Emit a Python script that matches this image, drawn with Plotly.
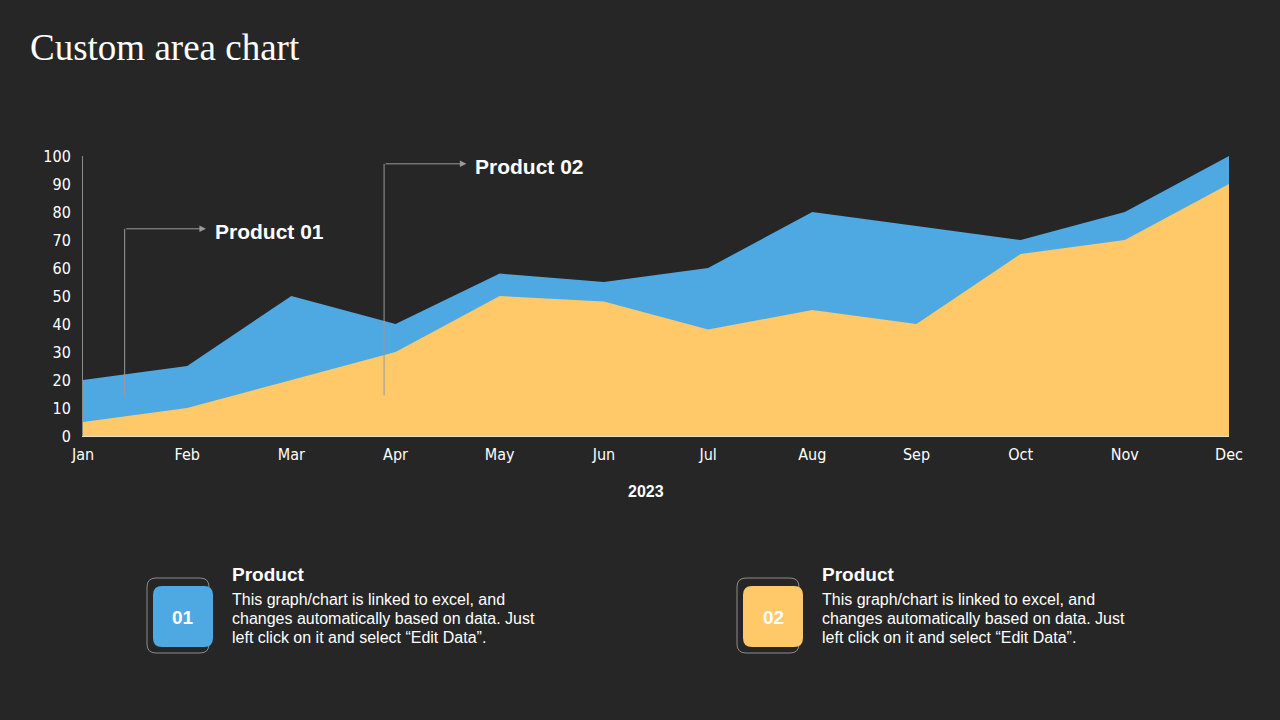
import plotly.graph_objects as go

# chart data
months = ['Jan', 'Feb', 'Mar', 'Apr', 'May', 'Jun', 'Jul', 'Aug', 'Sep', 'Oct', 'Nov', 'Dec']
product_01 = [20, 25, 50, 40, 58, 55, 60, 80, 75, 70, 80, 100]
product_02 = [5, 10, 20, 30, 50, 48, 38, 45, 40, 65, 70, 90]
y_ticks = [0, 10, 20, 30, 40, 50, 60, 70, 80, 90, 100]
x_title = '2023'

BG = '#262626'
BLUE = '#4EA9E2'
YELLOW = '#FFC869'
GREY = '#9a9a9a'
NARROW = 'Liberation Sans Narrow, DejaVu Sans Condensed, Arial Narrow, sans-serif'
SANS = 'Liberation Sans, Arial, sans-serif'

desc_lines = ['This graph/chart is linked to excel, and',
              'changes automatically based on data. Just',
              'left click on it and select \u201cEdit Data\u201d.']

fig = go.Figure()

# back area (Product 01) and front area (Product 02)
fig.add_trace(go.Scatter(x=months, y=product_01, mode='lines', fill='tozeroy',
                         line=dict(width=0, color=BLUE), fillcolor=BLUE,
                         name='Product 01', hoverinfo='x+y'))
fig.add_trace(go.Scatter(x=months, y=product_02, mode='lines', fill='tozeroy',
                         line=dict(width=0, color=YELLOW), fillcolor=YELLOW,
                         name='Product 02', hoverinfo='x+y'))

fig.update_layout(
    width=1280, height=720,
    paper_bgcolor=BG, plot_bgcolor=BG,
    margin=dict(l=83, r=51, t=156, b=284),
    showlegend=False,
    font=dict(family=NARROW, color='#ffffff', size=15),
)

fig.update_xaxes(
    type='category', range=[0, 11], showgrid=False, zeroline=False,
    showline=True, linecolor='#e8e0c8', linewidth=1,
    ticks='', ticklabelstandoff=4,
    tickfont=dict(family=NARROW, size=16, color='#ffffff'),
    fixedrange=True,
)
fig.update_yaxes(
    range=[0, 100], tickvals=y_ticks, showgrid=False, zeroline=False,
    showline=True, linecolor='#8a8a8a', linewidth=1,
    ticks='', ticklabelstandoff=8,
    tickfont=dict(family=NARROW, size=16, color='#ffffff'),
    fixedrange=True,
)

# pixel helpers relative to the plot area
W, H = 1280 - 83 - 51, 720 - 156 - 284


def px(x):
    return (x - 83) / W


def py(y):
    return (436 - y) / H


def rounded(x0, y0, x1, y1, r):
    # rounded rectangle path in paper coords, from pixel corners
    return ('M {a},{t} L {b},{t} Q {R},{t} {R},{c} L {R},{d} Q {R},{B} {b},{B} '
            'L {a},{B} Q {L},{B} {L},{d} L {L},{c} Q {L},{t} {a},{t} Z').format(
        a=px(x0 + r), b=px(x1 - r), L=px(x0), R=px(x1),
        t=py(y0), B=py(y1), c=py(y0 + r), d=py(y1 - r))


# slide title
fig.add_annotation(text='Custom area chart', xref='paper', yref='paper',
                   x=px(28), y=py(47), xanchor='left', yanchor='middle', showarrow=False,
                   font=dict(family='Liberation Serif, Times New Roman, serif', size=37, color='#ffffff'))

# x axis title (sits slightly left of the plot centre on the slide)
fig.add_annotation(text='<b>%s</b>' % x_title, xref='paper', yref='paper',
                   x=px(646), y=py(491), xanchor='center', yanchor='middle', showarrow=False,
                   font=dict(family=SANS, size=16, color='#ffffff'))

# callout arrows: vertical stem + arrowed horizontal segment
callouts = [
    # (stem x, stem bottom y, top y, head x, label x, label y, label)
    (0.40, 14, 74, 1.18, 1.25, 73.2, 'Product 01'),
    (2.89, 14.5, 97.2, 3.68, 3.74, 96.2, 'Product 02'),
]
for sx, y0, y1, hx, lx, ly, label in callouts:
    fig.add_shape(type='line', xref='x', yref='y', x0=sx, x1=sx, y0=y0, y1=y1,
                  line=dict(color=GREY, width=1))
    fig.add_annotation(x=hx, y=y1, ax=sx, ay=y1, xref='x', yref='y', axref='x', ayref='y',
                       text='', showarrow=True, arrowhead=2, arrowsize=1.3, arrowwidth=1,
                       arrowcolor=GREY)
    fig.add_annotation(x=lx, y=ly, xref='x', yref='y', text='<b>%s</b>' % label,
                       xanchor='left', yanchor='middle', showarrow=False,
                       font=dict(family=SANS, size=21, color='#ffffff'))

# bottom info blocks
blocks = [(147, BLUE, '01'), (737, YELLOW, '02')]
for bx, color, num in blocks:
    fig.add_shape(type='path', xref='paper', yref='paper',
                  path=rounded(bx, 578, bx + 62, 653, 9),
                  line=dict(color='#8c8c8c', width=1), fillcolor='rgba(0,0,0,0)',
                  layer='below')
    fig.add_shape(type='path', xref='paper', yref='paper',
                  path=rounded(bx + 6, 586, bx + 66, 647, 9),
                  line=dict(width=0), fillcolor=color)
    fig.add_annotation(text='<b>%s</b>' % num, xref='paper', yref='paper',
                       x=px(bx + 36), y=py(617), xanchor='center', yanchor='middle',
                       showarrow=False, font=dict(family=SANS, size=19, color='#ffffff'))
    fig.add_annotation(text='<b>Product</b>', xref='paper', yref='paper',
                       x=px(bx + 83), y=py(574), xanchor='left', yanchor='middle',
                       showarrow=False, font=dict(family=SANS, size=19, color='#ffffff'))
    for i, line in enumerate(desc_lines):
        fig.add_annotation(text=line, xref='paper', yref='paper', align='left',
                           x=px(bx + 83), y=py(599 + 19 * i), xanchor='left', yanchor='middle',
                           showarrow=False, font=dict(family=SANS, size=16, color='#ffffff'))

fig.write_html('out.html', config={'displayModeBar': False},
               post_script="document.body.style.margin='0';"
                           "document.body.style.background='%s';" % BG)
